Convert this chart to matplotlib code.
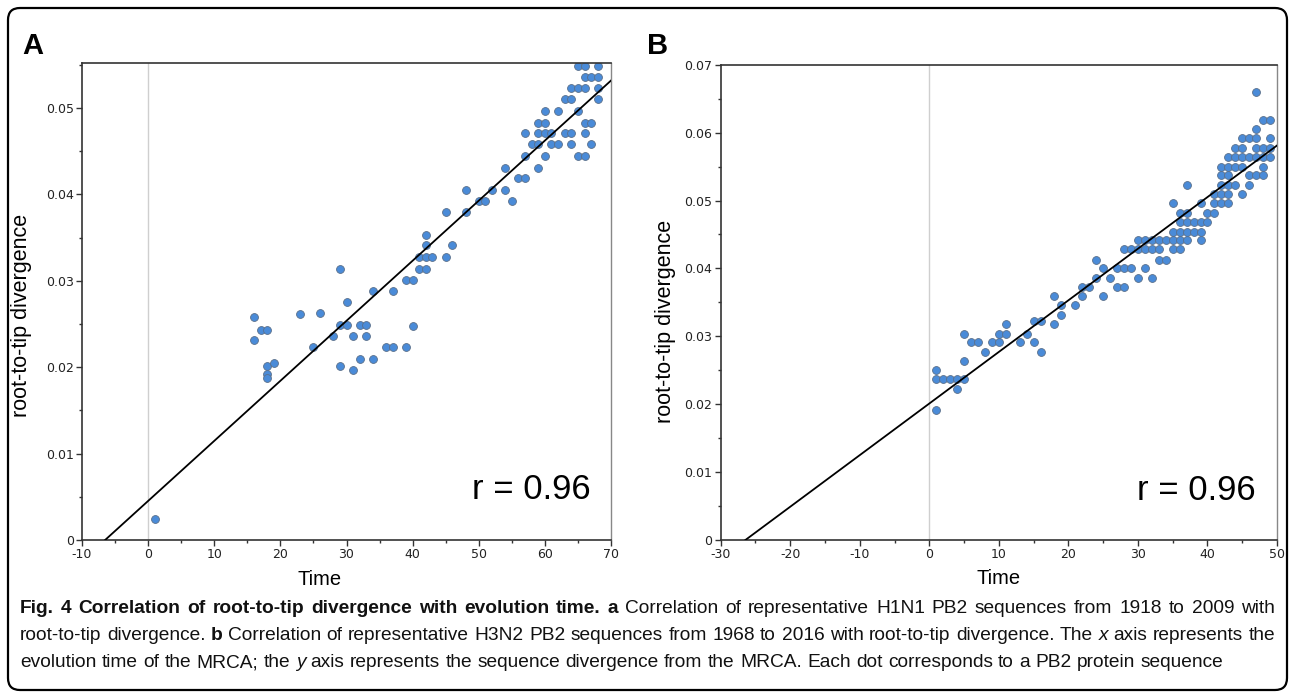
import matplotlib
matplotlib.use("Agg")
import matplotlib.pyplot as plt
from matplotlib.patches import FancyBboxPatch
from matplotlib.ticker import MultipleLocator, FuncFormatter
from matplotlib.transforms import IdentityTransform


# -----------------------------
# Data
# -----------------------------
# Panel A: H1N1 PB2, time (years from MRCA) vs root-to-tip divergence
A_TIME = [
    1,
    16, 16, 17, 18, 18, 18, 18, 19,
    23, 25, 26,
    28, 29, 29, 29, 30, 30, 31, 31, 32, 32, 33, 33, 34, 34,
    36, 37, 37, 39, 39, 40, 40,
    41, 41, 42, 42, 42, 42, 43, 45, 45, 46, 48, 48,
    50, 51, 52, 54, 54, 55, 56, 57, 57, 57,
    58, 59, 59, 59, 59, 60, 60, 60, 60, 61, 61, 62, 62,
    63, 63, 64, 64, 64, 64, 65, 65, 65, 65, 66, 66, 66, 66, 66, 66,
    67, 67, 67, 68, 68, 68, 68,
]
A_DIVERGENCE = [
    0.0024,
    0.0258, 0.0232, 0.0243, 0.0243, 0.0201, 0.0192, 0.0188, 0.0205,
    0.0262, 0.0223, 0.0263,
    0.0236, 0.0314, 0.0249, 0.0201, 0.0275, 0.0249, 0.0236, 0.0197,
    0.0249, 0.0210, 0.0249, 0.0236, 0.0288, 0.0210,
    0.0223, 0.0288, 0.0223, 0.0301, 0.0223, 0.0301, 0.0248,
    0.0314, 0.0327, 0.0314, 0.0327, 0.0341, 0.0353, 0.0327, 0.0327,
    0.0380, 0.0341, 0.0380, 0.0405,
    0.0392, 0.0392, 0.0405, 0.0405, 0.0431, 0.0392, 0.0419, 0.0419,
    0.0444, 0.0471,
    0.0458, 0.0458, 0.0431, 0.0471, 0.0483, 0.0444, 0.0471, 0.0483,
    0.0497, 0.0471, 0.0458, 0.0458, 0.0497,
    0.0471, 0.0510, 0.0471, 0.0458, 0.0510, 0.0523, 0.0523, 0.0497,
    0.0444, 0.0548, 0.0523, 0.0444, 0.0483, 0.0471, 0.0548, 0.0536,
    0.0483, 0.0458, 0.0536, 0.0548, 0.0536, 0.0523, 0.0510,
]
A_FIT = (0.000695, 0.00452)   # slope, intercept of the regression line

# Panel B: H3N2 PB2
B_TIME = [
    1, 1, 1, 2, 3, 4, 4, 5, 5, 5,
    6, 7, 8, 9, 10, 10, 11, 11, 13, 14, 15, 15, 16, 16,
    18, 18, 19, 19, 21, 22, 22, 23, 24, 24, 25, 25, 26,
    27, 27, 28, 28, 28, 29, 29, 30, 30, 30, 31, 31, 31,
    32, 32, 32, 33, 33, 33, 34, 34,
    35, 35, 35, 35, 36, 36, 36, 36, 36, 37, 37, 37, 37, 37,
    38, 38, 39, 39, 39, 39, 40, 40, 41, 41, 41,
    42, 42, 42, 42, 42, 43, 43, 43, 43, 43, 43,
    44, 44, 44, 44, 45, 45, 45, 45, 45, 46, 46, 46, 46,
    47, 47, 47, 47, 47, 47, 48, 48, 48, 48, 48, 49, 49, 49, 49,
]
B_DIVERGENCE = [
    0.0250, 0.0237, 0.0191, 0.0237, 0.0237, 0.0237, 0.0222, 0.0237,
    0.0264, 0.0304,
    0.0291, 0.0291, 0.0277, 0.0291, 0.0291, 0.0304, 0.0304, 0.0318,
    0.0291, 0.0304, 0.0291, 0.0323, 0.0277, 0.0323,
    0.0360, 0.0318, 0.0346, 0.0332, 0.0346, 0.0373, 0.0360, 0.0373,
    0.0413, 0.0386, 0.0400, 0.0360, 0.0386,
    0.0400, 0.0373, 0.0428, 0.0400, 0.0373, 0.0428, 0.0400, 0.0442,
    0.0428, 0.0386, 0.0442, 0.0428, 0.0400,
    0.0442, 0.0428, 0.0386, 0.0442, 0.0428, 0.0413, 0.0442, 0.0413,
    0.0496, 0.0454, 0.0442, 0.0428, 0.0482, 0.0469, 0.0454, 0.0442,
    0.0428, 0.0523, 0.0482, 0.0469, 0.0454, 0.0442,
    0.0469, 0.0454, 0.0496, 0.0469, 0.0454, 0.0442, 0.0482, 0.0469,
    0.0510, 0.0496, 0.0482,
    0.0550, 0.0537, 0.0523, 0.0510, 0.0496, 0.0564, 0.0550, 0.0537,
    0.0523, 0.0510, 0.0496,
    0.0578, 0.0564, 0.0550, 0.0523, 0.0592, 0.0578, 0.0564, 0.0550,
    0.0510, 0.0592, 0.0564, 0.0537, 0.0523,
    0.0660, 0.0605, 0.0592, 0.0578, 0.0564, 0.0537, 0.0619, 0.0578,
    0.0564, 0.0550, 0.0537, 0.0619, 0.0592, 0.0578, 0.0564,
]
B_FIT = (0.000760, 0.0201)

R_TEXT = "r = 0.96"

CAPTION_LINES = [
    [("Fig. 4 Correlation of root-to-tip divergence with evolution time. a", "bold", "normal"),
     (" Correlation of representative H1N1 PB2 sequences from 1918 to 2009 with", "normal", "normal")],
    [("root-to-tip divergence. ", "normal", "normal"),
     ("b", "bold", "normal"),
     (" Correlation of representative H3N2 PB2 sequences from 1968 to 2016 with root-to-tip divergence. The ", "normal", "normal"),
     ("x", "normal", "italic"),
     (" axis represents the", "normal", "normal")],
    [("evolution time of the MRCA; the ", "normal", "normal"),
     ("y", "normal", "italic"),
     (" axis represents the sequence divergence from the MRCA. Each dot corresponds to a PB2 protein sequence", "normal", "normal")],
]
CAPTION_JUSTIFY = [True, True, False]

plt.rcParams["axes.unicode_minus"] = False

DOT_FACE = "#4a8bd8"
DOT_EDGE = "#5a6f8a"
LABEL_FONT = ["Liberation Sans", "DejaVu Sans"]
CAPTION_FONT = ["Liberation Sans Narrow", "Liberation Sans", "DejaVu Sans"]


def tick_label(v, pos):
    if abs(v) < 1e-12:
        return "0"
    if abs(v - round(v)) < 1e-9:
        return str(int(round(v)))
    return f"{v:.2f}"


# -----------------------------
# One scatter panel
# -----------------------------
def draw_panel(fig, rect, times, divs, fit, xlim, ylim, letter, letter_xy,
               ylabel_xy, xlabel_x):
    ax = fig.add_axes(rect)
    ax.set_xlim(*xlim)
    ax.set_ylim(*ylim)

    ax.axvline(0, color="#cfcfcf", lw=1.0, zorder=1)

    slope, intercept = fit
    x_start = -intercept / slope
    ax.plot([x_start, xlim[1]],
            [0, slope * xlim[1] + intercept],
            color="black", lw=1.3, zorder=3)

    ax.scatter(times, divs, s=32, c=DOT_FACE, edgecolors=DOT_EDGE,
               linewidths=0.6, zorder=2)

    ax.xaxis.set_major_locator(MultipleLocator(10))
    ax.xaxis.set_minor_locator(MultipleLocator(5))
    ax.yaxis.set_major_locator(MultipleLocator(0.01))
    ax.yaxis.set_minor_locator(MultipleLocator(0.005))
    ax.xaxis.set_major_formatter(FuncFormatter(tick_label))
    ax.yaxis.set_major_formatter(FuncFormatter(tick_label))
    ax.tick_params(which="major", length=4, width=1, color="#333333",
                   labelsize=9, labelcolor="#222222", pad=2)
    ax.tick_params(which="minor", length=2.5, width=1, color="#333333")
    ax.tick_params(top=False, right=False)

    for side in ["left", "bottom", "top"]:
        ax.spines[side].set_color("#333333")
        ax.spines[side].set_linewidth(1.2)
    ax.spines["right"].set_color("#888888")
    ax.spines["right"].set_linewidth(1.0)

    ax.set_xlabel("Time", fontsize=14.5, family=LABEL_FONT)
    ax.xaxis.set_label_coords(xlabel_x, -0.062)
    ax.set_ylabel("root-to-tip divergence", fontsize=15.5, family=LABEL_FONT)
    ax.yaxis.set_label_coords(*ylabel_xy)

    ax.text(0.962, 0.105, R_TEXT, transform=ax.transAxes, ha="right",
            va="center", fontsize=25, family=LABEL_FONT)

    fig.text(letter_xy[0], letter_xy[1], letter, fontsize=21,
             fontweight="bold", family=LABEL_FONT, ha="left", va="baseline")
    return ax


# -----------------------------
# Caption under the panels
# -----------------------------
def ink_width(fig, renderer, text, size, weight="normal", style="normal"):
    t = fig.text(0, 0, text, fontsize=size, fontweight=weight,
                 fontstyle=style, family=CAPTION_FONT)
    w = t.get_window_extent(renderer).width
    t.remove()
    return w


def advance_width(fig, renderer, text, size, weight="normal", style="normal"):
    # sandwich between two "n" so side bearings cancel out
    full = ink_width(fig, renderer, "n" + text + "n", size, weight, style)
    pad = ink_width(fig, renderer, "nn", size, weight, style)
    return full - pad


def split_words(pieces):
    words = []
    for text, weight, style in pieces:
        for w in text.split():
            words.append((w, weight, style))
    return words


def draw_caption(fig):
    fig.canvas.draw()
    renderer = fig.canvas.get_renderer()
    fig_w = fig.bbox.width
    left_px = 20.0
    target = 1255.0

    def measure(words, size):
        space = advance_width(fig, renderer, " ", size)
        widths = [advance_width(fig, renderer, w, size, wt, st)
                  for w, wt, st in words]
        return widths, space

    # pick a size at which every justified line fits with normal spacing
    base = 12.0
    sizes = []
    for pieces, justify in zip(CAPTION_LINES, CAPTION_JUSTIFY):
        if justify:
            widths, space = measure(split_words(pieces), base)
            natural = sum(widths) + space * (len(widths) - 1)
            sizes.append(base * target / natural)
    size = min(sizes)

    baselines = [1 - 613 / 698, 1 - 640 / 698, 1 - 667 / 698]
    for pieces, y, justify in zip(CAPTION_LINES, baselines, CAPTION_JUSTIFY):
        words = split_words(pieces)
        widths, space = measure(words, size)
        gap = space
        if justify and len(words) > 1:
            gap = (target - sum(widths)) / (len(words) - 1)
        x = left_px
        for (w, wt, st), wd in zip(words, widths):
            fig.text(x / fig_w, y, w, fontsize=size, fontweight=wt,
                     fontstyle=st, family=CAPTION_FONT, ha="left",
                     va="baseline", color="#111111")
            x += wd + gap


def main():
    fig = plt.figure(figsize=(12.95, 6.98), dpi=100)

    frame = FancyBboxPatch((8, 8), 1279, 682,
                           boxstyle="round,pad=0,rounding_size=12",
                           transform=IdentityTransform(),
                           facecolor="none", edgecolor="black", lw=1.6)
    fig.add_artist(frame)

    draw_panel(fig, [82 / 1295, 158 / 698, 529 / 1295, 477 / 698],
               A_TIME, A_DIVERGENCE, A_FIT, (-10, 70), (0, 0.0552),
               "A", (22 / 1295, 1 - 54 / 698), (-0.0945, 0.47), 0.45)
    draw_panel(fig, [720.7 / 1295, 158 / 698, 556.3 / 1295, 475.3 / 698],
               B_TIME, B_DIVERGENCE, B_FIT, (-30, 50), (0, 0.07),
               "B", (647 / 1295, 1 - 54 / 698), (-0.080, 0.46), 0.5)

    draw_caption(fig)

    fig.savefig("out.png", dpi=100)
    plt.close(fig)


if __name__ == "__main__":
    main()
